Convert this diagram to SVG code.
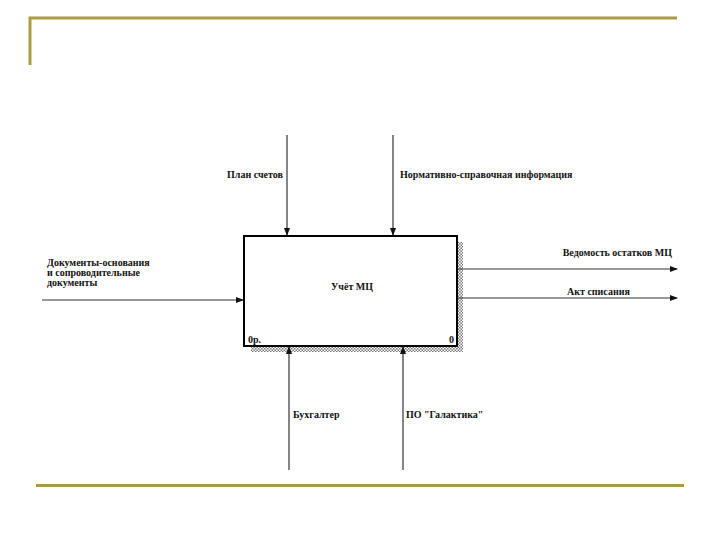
<svg xmlns="http://www.w3.org/2000/svg" width="720" height="540" viewBox="0 0 720 540">
<style>
.deco{stroke:#a99c44;stroke-width:3;fill:none}
.arr{stroke:#333;stroke-width:1.2;fill:none;marker-end:url(#ah)}
text{font-family:"Liberation Serif","Times New Roman",serif;font-weight:bold;font-size:10px;fill:#111}
</style>
<defs>
<marker id="ah" markerWidth="8" markerHeight="6" refX="7" refY="3" orient="auto" markerUnits="userSpaceOnUse">
<path d="M0,0 L8,3 L0,6 Z" fill="#111"/>
</marker>
<pattern id="hatch" width="3" height="3" patternUnits="userSpaceOnUse">
<rect width="3" height="3" fill="#fff"/>
<rect width="1.5" height="1.5" fill="#777"/>
<rect x="1.5" y="1.5" width="1.5" height="1.5" fill="#777"/>
</pattern>
</defs>
<rect width="720" height="540" fill="#fff"/>
<g id="decor">
<path class="deco" d="M30,65 V18 H677"/>
<path class="deco" d="M36,485.5 H684"/>
</g>
<g id="node-uchet">
<rect x="457" y="242" width="6" height="110" fill="url(#hatch)"/>
<rect x="251" y="346" width="212" height="6" fill="url(#hatch)"/>
<rect x="244" y="236" width="213" height="110" fill="#fff" stroke="#000" stroke-width="2"/>
<text x="352" y="290" text-anchor="middle">Учёт МЦ</text>
<text x="248" y="343">0р.</text>
<text x="454" y="343" text-anchor="end">0</text>
</g>
<g id="connectors">
<line class="arr" x1="287" y1="135" x2="287" y2="235"/>
<line class="arr" x1="393" y1="135" x2="393" y2="235"/>
<line class="arr" x1="42" y1="300" x2="243" y2="300"/>
<line class="arr" x1="457" y1="269" x2="677" y2="269"/>
<line class="arr" x1="457" y1="298" x2="677" y2="298"/>
<line class="arr" x1="289" y1="470" x2="289" y2="347"/>
<line class="arr" x1="403" y1="470" x2="403" y2="347"/>
</g>
<g id="labels">
<text x="47" y="266">Документы-основания</text>
<text x="47" y="276">и сопроводительные</text>
<text x="47" y="286">документы</text>
<text x="283" y="178" text-anchor="end">План счетов</text>
<text x="400" y="178">Нормативно-справочная информация</text>
<text x="672" y="256" text-anchor="end">Ведомость остатков МЦ</text>
<text x="567" y="295">Акт списания</text>
<text x="293" y="418">Бухгалтер</text>
<text x="406" y="418">ПО "Галактика"</text>
</g>
</svg>
